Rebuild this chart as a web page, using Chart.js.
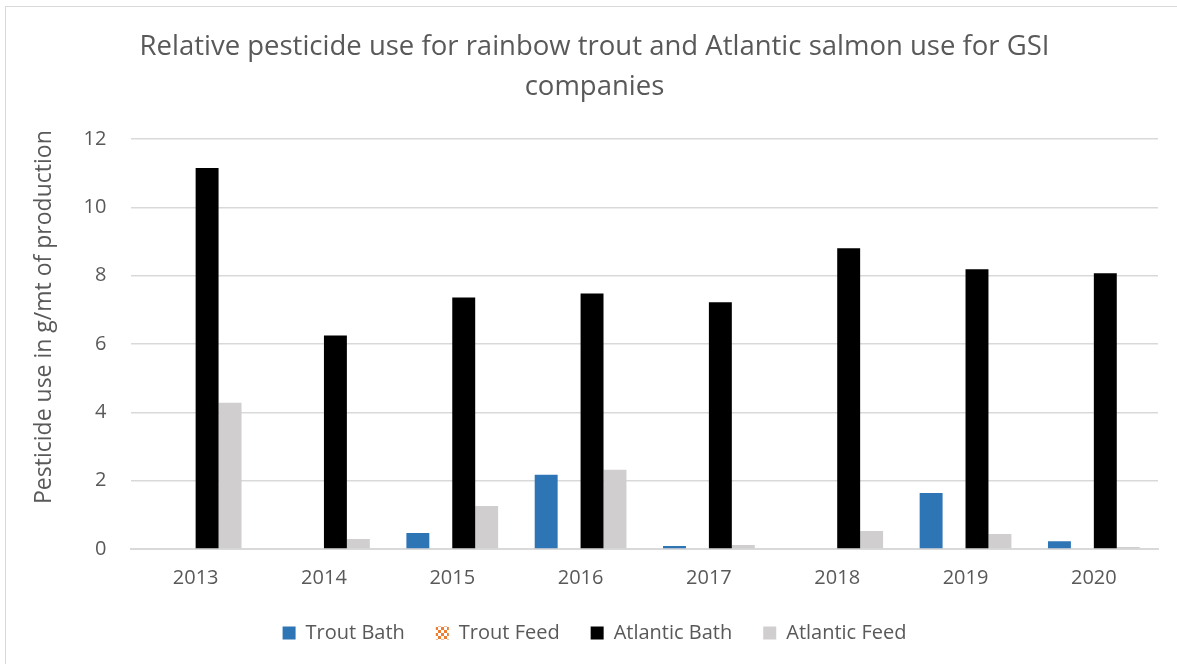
<!DOCTYPE html>
<html>
<head>
<meta charset="utf-8">
<script src="https://cdn.jsdelivr.net/npm/chart.js@4"></script>
<style>
  html, body { margin: 0; padding: 0; background: #fff; overflow: hidden; }
  #wrap { position: relative; width: 1177px; height: 664px; overflow: hidden; }
  #chart { position: absolute; left: 0; top: 0; }
  #frame { position: absolute; left: 5px; top: 6px; width: 1190px; height: 680px; border: 1px solid #d9d9d9; pointer-events: none; }
</style>
</head>
<body>
<div id="wrap">
  <canvas id="chart" width="1177" height="658"></canvas>
  <div id="frame"></div>
</div>
<script>
// 年度類別
const years = ["2013", "2014", "2015", "2016", "2017", "2018", "2019", "2020"]
// 各系列數值 (g/mt of production)
const troutBath = [0, 0, 0.47, 2.17, 0.09, 0, 1.64, 0.23]
const troutFeed = [0, 0, 0, 0, 0, 0, 0, 0]
const atlanticBath = [11.15, 6.25, 7.36, 7.48, 7.22, 8.8, 8.19, 8.07]
const atlanticFeed = [4.28, 0.29, 1.26, 2.32, 0.12, 0.53, 0.44, 0.06]
const yTicks = [0, 2, 4, 6, 8, 10, 12]

const FONT = "'Open Sans', 'Noto Sans', sans-serif"
const TEXT = "#595959"
// 軸標題前置空白, 讓標題略往上偏 (同原圖)
const NBSP = "\u00a0".repeat(9)

// 橘色棋盤格樣式 (Trout Feed)
function checkerPattern() {
  const c = document.createElement("canvas")
  c.width = 6
  c.height = 6
  const g = c.getContext("2d")
  g.fillStyle = "#ffffff"
  g.fillRect(0, 0, 6, 6)
  g.fillStyle = "#ed7d31"
  g.fillRect(0, 0, 3, 3)
  g.fillRect(3, 3, 3, 3)
  return g.createPattern(c, "repeat")
}

const ctx = document.getElementById("chart")

new Chart(ctx, {
  type: "bar",
  data: {
    labels: years,
    datasets: [
      { label: "Trout Bath", data: troutBath, backgroundColor: "#2e75b6" },
      { label: "Trout Feed", data: troutFeed, backgroundColor: checkerPattern() },
      { label: "Atlantic Bath", data: atlanticBath, backgroundColor: "#000000" },
      { label: "Atlantic Feed", data: atlanticFeed, backgroundColor: "#d0cece" },
    ],
  },
  options: {
    responsive: false,
    animation: false,
    devicePixelRatio: 1,
    layout: { padding: { left: 31, right: 19, top: 20, bottom: 5 } },
    datasets: {
      bar: { barPercentage: 1, categoryPercentage: 0.715 },
    },
    plugins: {
      title: {
        display: true,
        text: ["Relative pesticide use for rainbow trout and Atlantic salmon use for GSI", "companies"],
        color: TEXT,
        font: { family: FONT, size: 27.5, weight: "normal", lineHeight: 1.4545 },
        padding: { top: 7, bottom: 32 },
      },
      legend: {
        position: "bottom",
        labels: {
          color: TEXT,
          font: { family: FONT, size: 20 },
          boxWidth: 13,
          boxHeight: 13,
          padding: 31,
        },
      },
      tooltip: { enabled: false },
    },
    scales: {
      x: {
        grid: { display: false },
        border: { color: "#d9d9d9", width: 2 },
        ticks: { color: TEXT, font: { family: FONT, size: 20 }, padding: 9 },
        // 縮減 x 軸佔用高度, 讓圖例往上靠
        afterFit: (scale) => { scale.height -= 7 },
      },
      y: {
        min: 0,
        max: 12,
        afterBuildTicks: (axis) => { axis.ticks = yTicks.map((v) => ({ value: v })) },
        grid: { color: "#d9d9d9", lineWidth: 1.5, drawTicks: false },
        border: { display: false },
        ticks: { color: TEXT, font: { family: FONT, size: 20 }, padding: 25 },
        title: {
          display: true,
          text: NBSP + "Pesticide use in g/mt of production",
          color: TEXT,
          font: { family: FONT, size: 23 },
          padding: { top: 0, bottom: 0 },
        },
      },
    },
  },
})
</script>
</body>
</html>
